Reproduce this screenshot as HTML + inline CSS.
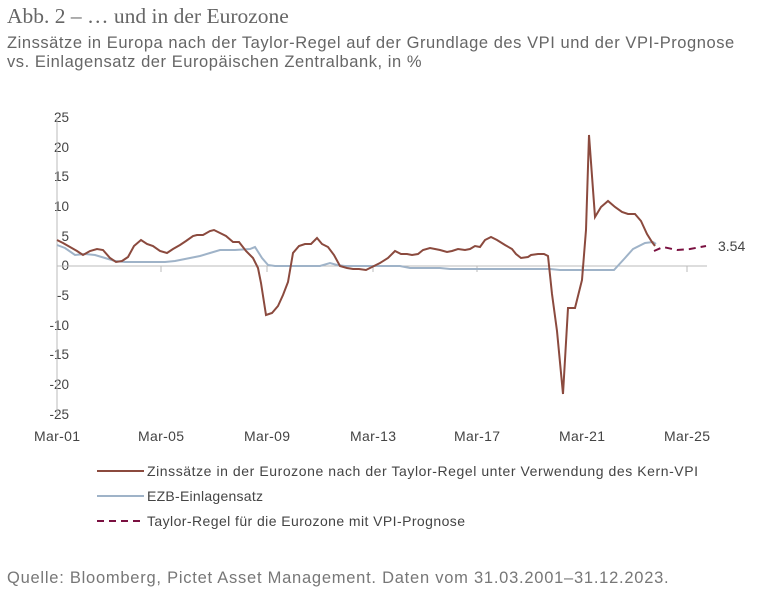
<!DOCTYPE html>
<html><head><meta charset="utf-8"><style>
body{margin:0;background:#fff;width:757px;height:602px;overflow:hidden;font-family:"Liberation Sans",sans-serif;}
.t1{position:absolute;left:7px;top:4px;font-family:"Liberation Serif",serif;font-size:21.5px;color:#666;}
.t2{position:absolute;left:7px;top:34px;font-size:16.5px;letter-spacing:0.55px;color:#666;line-height:19px;}
.src{position:absolute;left:7px;top:569px;font-size:16.5px;letter-spacing:0.75px;color:#777;}
svg{position:absolute;left:0;top:0}
svg text{font-family:"Liberation Sans",sans-serif;fill:#444}
</style></head><body>
<div class="t1">Abb. 2 – … und in der Eurozone</div>
<div class="t2">Zinssätze in Europa nach der Taylor-Regel auf der Grundlage des VPI und der VPI-Prognose<br>vs. Einlagensatz der Europäischen Zentralbank, in %</div>
<svg width="757" height="602">
<g font-size="13.5" text-anchor="end">
<text x="69" y="122">25</text><text x="69" y="152">20</text><text x="69" y="181">15</text><text x="69" y="211">10</text><text x="69" y="241">5</text><text x="69" y="270">0</text><text x="69" y="300">-5</text><text x="69" y="330">-10</text><text x="69" y="359">-15</text><text x="69" y="389">-20</text><text x="69" y="419">-25</text>
</g>
<line x1="57" y1="117" x2="57" y2="415" stroke="#bbb" stroke-width="1"/>
<line x1="57" y1="266" x2="707" y2="266" stroke="#bbb" stroke-width="1"/>
<g stroke="#bbb"><line x1="161" y1="266" x2="161" y2="272"/><line x1="267" y1="266" x2="267" y2="272"/><line x1="373" y1="266" x2="373" y2="272"/><line x1="477" y1="266" x2="477" y2="272"/><line x1="582" y1="266" x2="582" y2="272"/><line x1="687" y1="266" x2="687" y2="272"/></g>
<g font-size="14" text-anchor="middle">
<text x="57" y="441" textLength="46">Mar-01</text><text x="161" y="441" textLength="46">Mar-05</text><text x="267" y="441" textLength="46">Mar-09</text><text x="373" y="441" textLength="46">Mar-13</text><text x="477" y="441" textLength="46">Mar-17</text><text x="582" y="441" textLength="46">Mar-21</text><text x="687" y="441" textLength="46">Mar-25</text>
</g>
<polyline fill="none" stroke="#9fb3c8" stroke-width="2" points="57,245 65,248 75,255 85,254 95,255 105,258 115,261 125,262 165,262 175,261 185,259 200,256 210,253 220,250 235,250 250,249 255,247 262,258 268,265 275,266 320,266 330,263 337,265 345,266 400,266 410,268 440,268 450,269 550,269 560,270 614,270 625,258 633,249 645,243 653,242 656,244"/>
<polyline fill="none" stroke="#8b4a3e" stroke-width="2" points="57,240 63,243 70,247 77,251 83,255 90,251 97,249 103,250 110,258 116,262 122,261 128,257 134,246 141,240 147,244 153,246 160,251 167,253 173,249 180,245 186,241 193,236 197,235 203,235 210,231 214,230 220,233 226,236 233,242 239,242 246,251 253,258 258,268 261,283 266,315 272,313 278,306 283,295 288,282 293,253 299,246 305,244 311,244 317,238 322,244 328,247 334,255 340,266 347,268 353,269 359,269 366,270 372,267 380,263 388,258 395,251 401,254 407,254 412,255 418,254 423,250 430,248 435,249 440,250 447,252 452,251 458,249 465,250 470,249 475,246 480,247 485,240 491,237 497,240 505,245 512,249 516,254 521,258 528,257 531,255 538,254 544,254 548,256 552,294 557,331 563,394 568,308 575,308 582,280 586,230 589,135 595,217 601,207 608,201 615,207 622,212 628,214 635,214 641,221 647,234 652,242 655,246"/>
<polyline fill="none" stroke="#7a1040" stroke-width="2" stroke-dasharray="7,5" points="654,251 663,247 677,250 690,249 706,246"/>
<text x="718" y="251" font-size="14">3.54</text>
<line x1="97" y1="471" x2="144" y2="471" stroke="#8b4a3e" stroke-width="2"/>
<line x1="97" y1="496" x2="144" y2="496" stroke="#9fb3c8" stroke-width="2"/>
<line x1="97" y1="521" x2="144" y2="521" stroke="#7a1040" stroke-width="2" stroke-dasharray="7,5"/>
<g font-size="14"><text x="147" y="476" textLength="551">Zinssätze in der Eurozone nach der Taylor-Regel unter Verwendung des Kern-VPI</text><text x="147" y="501" textLength="116">EZB-Einlagensatz</text><text x="147" y="526" textLength="318">Taylor-Regel für die Eurozone mit VPI-Prognose</text></g>
</svg>
<div class="src">Quelle: Bloomberg, Pictet Asset Management. Daten vom 31.03.2001–31.12.2023.</div>
</body></html>
